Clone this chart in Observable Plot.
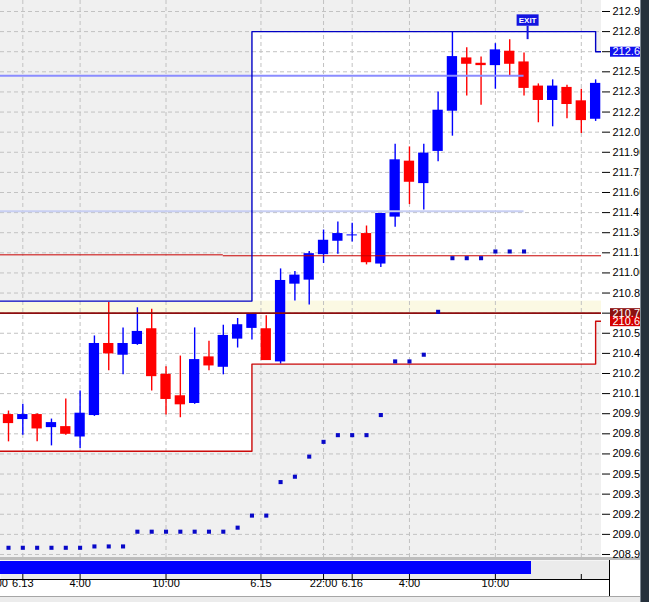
<!DOCTYPE html>
<html><head><meta charset="utf-8">
<script src="https://cdn.jsdelivr.net/npm/d3@7"></script>
<script src="https://cdn.jsdelivr.net/npm/@observablehq/plot@0.6"></script>
<style>
html,body{margin:0;padding:0;background:#fff;}
#wrap{position:relative;width:649px;height:602px;overflow:hidden;font-family:"Liberation Sans",Arial,sans-serif;}
#sep{height:3px;background:#bdbdbd;width:640px;}
#toolbar{position:absolute;left:0;top:596px;width:640px;height:6px;background:#ececec;border-top:1px solid #a6a6a6;box-sizing:border-box;}
#edge{position:absolute;left:640px;top:0;width:9px;height:602px;background:#25303b;border-left:1px solid #7d8791;box-sizing:border-box;}
svg{display:block;}
</style></head><body>
<div id="wrap"><div id="main"></div><div id="sep"></div><div id="bottom"></div><div id="toolbar"></div><div id="edge"></div></div>
<script>
// ---- candles (H1), index 0..41 ----
const opens  = [209.94,209.91,209.94,209.85,209.85,209.78,209.94,210.47,210.39,210.47,210.58,210.24,210.08,210.03,210.37,210.30,210.51,210.59,210.58,210.34,210.92,210.95,211.14,211.24,211.28,211.29,211.07,211.42,211.83,211.67,211.91,212.21,212.60,212.56,212.55,212.65,212.57,212.39,212.29,212.38,212.28,212.15];
const highs  = [209.97,210.02,209.95,209.91,210.06,210.12,210.53,210.78,210.59,210.74,210.73,210.30,210.38,210.59,210.49,210.61,210.66,210.69,210.68,211.03,211.01,211.16,211.32,211.38,211.37,211.35,211.44,211.96,211.94,211.96,212.35,212.80,212.68,212.61,212.71,212.74,212.64,212.41,212.44,212.40,212.37,212.44];
const lows   = [209.74,209.79,209.74,209.71,209.79,209.69,209.93,210.27,210.24,210.46,210.12,209.94,209.92,210.02,210.27,210.24,210.44,210.50,210.35,210.32,210.79,210.76,211.07,211.14,211.23,211.06,211.04,211.34,211.51,211.47,211.83,212.02,212.32,212.25,212.37,212.47,212.32,212.12,212.09,212.15,212.04,212.13];
const closes = [209.88,209.94,209.84,209.88,209.80,209.95,210.47,210.40,210.47,210.56,210.23,210.06,210.02,210.35,210.31,210.53,210.61,210.69,210.35,210.94,210.98,211.14,211.24,211.29,211.28,211.08,211.44,211.84,211.68,211.89,212.21,212.61,212.56,212.55,212.66,212.56,212.38,212.29,212.39,212.26,212.14,212.41];

// trailing-stop dots, index 0..36
const stopDots = [208.95,208.95,208.95,208.95,208.95,208.95,208.96,208.96,208.96,209.07,209.07,209.07,209.07,209.07,209.07,209.07,209.10,209.19,209.19,209.44,209.48,209.63,209.74,209.79,209.79,209.79,209.94,210.34,210.34,210.39,210.71,211.11,211.11,211.11,211.16,211.16,211.16];

// channel step lines
const channelKs   = [-1, 17, 41, 42];
const channelHigh = [210.79, 212.80, 212.65, 212.65];
const channelLow  = [209.67, 210.32, 210.64, 210.64];
const zoneLow = 210.70, zoneHigh = 210.79;

// horizontal levels
const levelPrices = [212.47, 211.46, 211.135, 211.128, 210.70];
const levelFrom   = [-1, -1, -1, 15, -1];
const levelTo     = [36, 36, 15, 42, 42];
const levelColors = ["#8a8cff", "#c8cff3", "#c80000", "#c80000", "#8c0d0d"];
const levelWidths = [2, 2, 1, 1, 1.6];

// time axis
const timeTicks  = [-1, 1, 5, 11, 17.63, 22, 24, 28, 34, 40];
const timeLabels = ["22:00", "6.13", "4:00", "10:00", "6.15", "22:00", "6.16", "4:00", "10:00", ""];

// price axis
const priceTicks = [212.95,212.80,212.65,212.50,212.35,212.20,212.05,211.90,211.75,211.60,211.45,211.30,211.15,211.00,210.85,210.70,210.55,210.40,210.25,210.10,209.95,209.80,209.65,209.50,209.35,209.20,209.05,208.90];

// price tags on the axis
const tagPrices = [212.65, 210.70, 210.64];
const tagTexts  = ["212.65", "210.70", "210.64"];
const tagColors = ["#1111ee", "#8b1111", "#d40000"];

// exit marker
const exitK = 36.25, exitPrice = 212.74, exitText = "EXIT";

// lower indicator (k = -1 .. 41)
const trendSignal = [1,1,1,1,1,1,1,1,1,1,1,1,1,1,1,1,1,1,1,1,1,1,1,1,1,1,1,1,1,1,1,1,1,1,1,1,1,1,0,0,0,0,0];

const candles = opens.map((o, k) => ({k, o, h: highs[k], l: lows[k], c: closes[k]}));
const col = d => d.c >= d.o ? "#0000ff" : "#ff0000";
const dots = stopDots.map((v, k) => ({k, v}));
const levels = levelPrices.map((p, i) => ({p, a: levelFrom[i], b: levelTo[i], s: levelColors[i], w: levelWidths[i]}));
const ticks = timeTicks.map((k, i) => ({k, t: timeLabels[i]}));
const tags = tagPrices.map((p, i) => ({p, t: tagTexts[i], c: tagColors[i]}));
const ind = trendSignal.map((v, i) => ({k: i - 1, v}));

const xDomain = [-0.5587, 41.41];
const yDomain = [208.8775, 213.032];
const gray = "#f0f0f0";
const grid = {stroke: "#c2c2c2", strokeDasharray: "4,3", strokeWidth: 1};
const font = '"Liberation Sans", Arial, sans-serif';

const main = Plot.plot({
  width: 649, height: 557,
  marginLeft: 0, marginRight: 48, marginTop: 0, marginBottom: 0,
  x: {domain: xDomain, axis: null},
  y: {domain: yDomain, axis: null},
  style: {fontFamily: font, background: "white", overflow: "visible"},
  marks: [
    Plot.areaY(channelKs, {x: channelKs, y1: channelHigh, y2: 213.2, curve: "step-after", fill: gray, clip: true}),
    Plot.areaY(channelKs, {x: channelKs, y1: 208.7, y2: channelLow, curve: "step-after", fill: gray, clip: true}),
    Plot.rect([0], {x1: xDomain[0], x2: xDomain[1], y1: zoneLow, y2: zoneHigh, fill: "#fbf9e3"}),
    Plot.ruleY(priceTicks, grid),
    Plot.ruleX(timeTicks, {...grid, clip: true}),
    Plot.ruleX(candles, {x: "k", y1: "l", y2: "h", stroke: col, strokeWidth: 1.4}),
    Plot.rect(candles, {x1: d => d.k - 0.36, x2: d => d.k + 0.36, y1: "o", y2: "c", fill: col, insetTop: -0.5, insetBottom: -0.5}),
    Plot.ruleY(levels, {y: "p", x1: "a", x2: "b", stroke: "s", strokeWidth: "w", clip: true}),
    Plot.line(channelKs, {x: channelKs, y: channelLow, curve: "step-after", stroke: "#cc0a0a", strokeWidth: 1.4, clip: true}),
    Plot.line(channelKs, {x: channelKs, y: channelHigh, curve: "step-after", stroke: "#0000c4", strokeWidth: 1.4, clip: true}),
    Plot.dot(dots, {x: "k", y: "v", symbol: "square", r: 2.3, fill: "#0808c8", stroke: null}),
    Plot.ruleX([exitK], {x: d => d, y1: exitPrice, y2: exitPrice + 0.1, stroke: "#1414e0", strokeWidth: 2}),
    Plot.ruleX([exitK], {x: d => d, y1: exitPrice + 0.1, y2: exitPrice + 0.185, stroke: "#1414e0", strokeWidth: 22}),
    Plot.text([exitText], {x: exitK, y: exitPrice + 0.142, text: d => d, fill: "white", fontSize: 8, fontWeight: "bold"}),
    Plot.axisY(priceTicks, {anchor: "right", tickSize: 8, tickPadding: 3, tickFormat: d => d.toFixed(2), fontSize: 11, label: null, stroke: "#000", fill: "#000"}),
    Plot.ruleY(tags, {y: "p", stroke: "c", strokeWidth: 10, insetLeft: 610, insetRight: -40}),
    Plot.text(tags, {y: "p", text: "t", frameAnchor: "right", dx: 11, textAnchor: "start", fill: "white", fontSize: 11})
  ]
});
document.getElementById("main").append(main);

const bottom = Plot.plot({
  width: 649, height: 36,
  marginLeft: 0, marginRight: 48, marginTop: 0, marginBottom: 17,
  x: {domain: xDomain, axis: null},
  y: {domain: [-0.385, 1.077], axis: null},
  style: {fontFamily: font, background: "white", overflow: "visible"},
  marks: [
    Plot.frame({fill: "#ebebeb", stroke: null, insetRight: -8}),
    Plot.rect(ind, {x1: d => d.k - 0.5, x2: d => d.k + 0.5, y1: 0, y2: "v", fill: "#0000ff", clip: true, shapeRendering: "crispEdges"}),
    Plot.ruleY([yDomainBottom()], {stroke: "#000", insetRight: -8}),
    Plot.ruleX(timeTicks, {stroke: "#000", insetTop: 14, clip: true}),
    Plot.ruleX([xDomain[1]], {stroke: "#000", dx: 8, insetBottom: -17}),
    Plot.text(ticks, {x: "k", text: "t", frameAnchor: "bottom", dy: 7, fontSize: 11, fill: "#000"})
  ]
});
function yDomainBottom() { return -0.385; }
document.getElementById("bottom").append(bottom);
</script>
</body></html>
